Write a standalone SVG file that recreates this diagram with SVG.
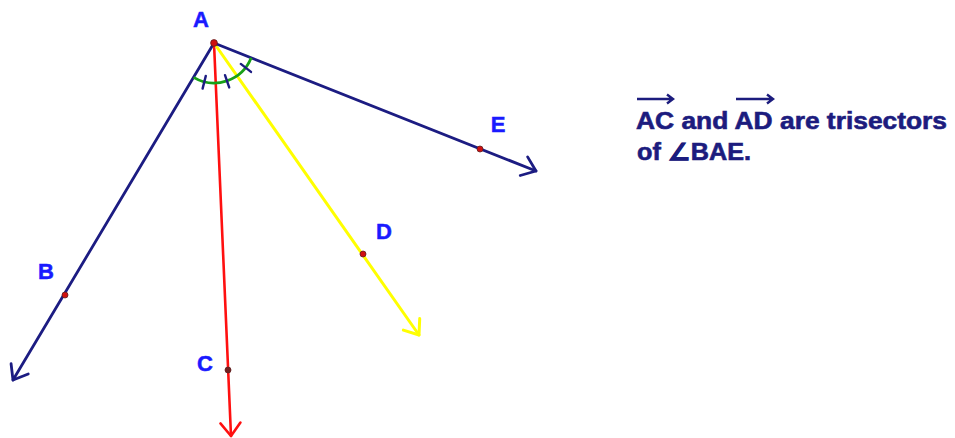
<svg xmlns="http://www.w3.org/2000/svg" width="955" height="438" viewBox="0 0 955 438">
<style>
.ray{fill:none;stroke-linecap:round}
.navy{stroke:#1c1c82;stroke-width:2.8}
.red{stroke:#ff1010;stroke-width:2.6}
.yel{stroke:#ffff00;stroke-width:3}
.lbl{font-family:"Liberation Sans",Arial,sans-serif;font-weight:bold;font-size:22px;fill:#1a1aff;stroke:#1a1aff;stroke-width:0.5;text-anchor:middle}
.cap{font-family:"Liberation Sans",Arial,sans-serif;font-weight:bold;font-size:23px;fill:#1c1c7e;stroke:#1c1c7e;stroke-width:0.6}
.pt{fill:#d01010;stroke:#602020;stroke-width:0.8}
.tick{stroke:#1c1c82;stroke-width:2.4;stroke-linecap:round}
.ovl{fill:none;stroke:#1c1c7e;stroke-width:2.4}
</style>
<defs>
<marker id="ahN" markerUnits="userSpaceOnUse" markerWidth="40" markerHeight="40" refX="0" refY="0" viewBox="-20 -20 40 40" orient="auto" overflow="visible">
<path d="M-13 -10 L0 0 L-13 10" fill="none" stroke="#1c1c82" stroke-width="2.8" stroke-linecap="round" stroke-linejoin="round"/>
</marker>
<marker id="ahR" markerUnits="userSpaceOnUse" markerWidth="40" markerHeight="40" refX="0" refY="0" viewBox="-20 -20 40 40" orient="auto" overflow="visible">
<path d="M-13 -10 L0 0 L-13 10" fill="none" stroke="#ff1010" stroke-width="2.6" stroke-linecap="round" stroke-linejoin="round"/>
</marker>
<marker id="ahY" markerUnits="userSpaceOnUse" markerWidth="40" markerHeight="40" refX="0" refY="0" viewBox="-20 -20 40 40" orient="auto" overflow="visible">
<path d="M-13 -10 L0 0 L-13 10" fill="none" stroke="#ffff00" stroke-width="3" stroke-linecap="round" stroke-linejoin="round"/>
</marker>
</defs>
<g id="connectors">
<line id="rayAB" class="ray navy" x1="214" y1="43" x2="13" y2="380" marker-end="url(#ahN)"/>
<line id="rayAC" class="ray red" x1="214" y1="43" x2="231" y2="436" marker-end="url(#ahR)"/>
<line id="rayAD" class="ray yel" x1="214" y1="43" x2="419" y2="335" marker-end="url(#ahY)"/>
<line id="rayAE" class="ray navy" x1="214" y1="43" x2="536" y2="171" marker-end="url(#ahN)"/>
</g>
<g id="angle-marks">
<path d="M193.6 77.4 A40 40 0 0 0 251.2 57.8" fill="none" stroke="#18a018" stroke-width="2.8"/>
<line class="tick" x1="205.8" y1="75.9" x2="202.6" y2="88.6"/>
<line class="tick" x1="225" y1="75.2" x2="229.2" y2="87.4"/>
<line class="tick" x1="240.8" y1="63.9" x2="251" y2="71.9"/>
</g>
<g id="node-A"><circle class="pt" cx="214" cy="43" r="3.4"/><text class="lbl" x="201" y="27">A</text></g>
<g id="node-B"><circle class="pt" cx="65" cy="295" r="3"/><text class="lbl" x="46" y="279">B</text></g>
<g id="node-C"><circle class="pt" cx="228" cy="370" r="3" style="fill:#702020"/><text class="lbl" x="205" y="371">C</text></g>
<g id="node-D"><circle class="pt" cx="363" cy="254" r="3"/><text class="lbl" x="384" y="239">D</text></g>
<g id="node-E"><circle class="pt" cx="480" cy="149" r="3"/><text class="lbl" x="498" y="132">E</text></g>
<g id="caption">
<text class="cap" x="636" y="129" textLength="311" lengthAdjust="spacingAndGlyphs">AC and AD are trisectors</text>
<text class="cap" x="637" y="160" textLength="114" lengthAdjust="spacingAndGlyphs">of ∠BAE.</text>
<path class="ovl" d="M637 99 H673 M667 94.5 L673 99 L667 103.5"/>
<path class="ovl" d="M736 99 H773 M767 94.5 L773 99 L767 103.5"/>
</g>
</svg>
